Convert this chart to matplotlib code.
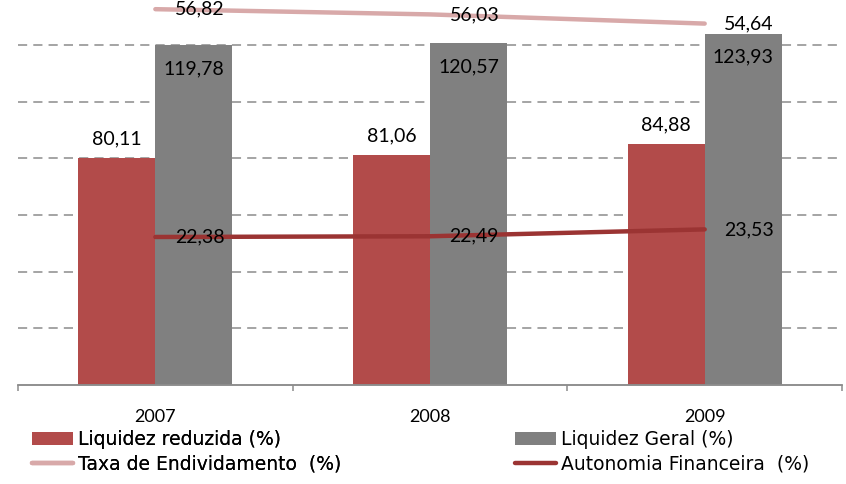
import numpy as np
import matplotlib
matplotlib.use('Agg')
import matplotlib.pyplot as plt
from matplotlib.ticker import FixedLocator

plt.rcParams['font.family'] = ['Lato', 'DejaVu Sans']

years = ['2007', '2008', '2009']
liquidez_reduzida = [80.11, 81.06, 84.88]
liquidez_geral = [119.78, 120.57, 123.93]
taxa_endividamento = [56.82, 56.03, 54.64]
autonomia_financeira = [22.38, 22.49, 23.53]


def fmt(v):
    return f'{v:.2f}'.replace('.', ',')


fig = plt.figure(figsize=(8.46, 4.84), dpi=100)
ax = fig.add_axes([0.0213, 0.2045, 0.974, 0.82])
ax2 = ax.twinx()

x = np.arange(len(years))
w = 0.28
red = '#B24B4A'
grey = '#808080'

b1 = ax.bar(x - w / 2, liquidez_reduzida, w, color=red, zorder=2,
            label='Liquidez reduzida (%)')
b2 = ax.bar(x + w / 2, liquidez_geral, w, color=grey, zorder=2,
            label='Liquidez Geral (%)')

lab_size = 14
for xi, v in zip(x - w / 2, liquidez_reduzida):
    ax.annotate(fmt(v), (xi, v), xytext=(0, 14), textcoords='offset points',
                ha='center', va='center', fontsize=lab_size)
for xi, v in zip(x + w / 2, liquidez_geral):
    ax.annotate(fmt(v), (xi, v), xytext=(0, -17), textcoords='offset points',
                ha='center', va='center', fontsize=lab_size)

l1, = ax2.plot(x, taxa_endividamento, color='#D8A9A9', lw=3.2,
               solid_capstyle='round', label='Taxa de Endividamento  (%)')
l2, = ax2.plot(x, autonomia_financeira, color='#9B3433', lw=3.2,
               solid_capstyle='round', label='Autonomia Financeira  (%)')
for vals in (taxa_endividamento, autonomia_financeira):
    for xi, v in zip(x, vals):
        ax2.annotate(fmt(v), (xi, v), xytext=(14, 0), textcoords='offset points',
                     ha='left', va='center', fontsize=lab_size)

ax.set_xlim(-0.5, 2.5)
ax.set_ylim(0, 140)
ax2.set_ylim(0, 60)

ax.set_yticks(np.arange(20, 140, 20))
ax.yaxis.grid(True, linestyle=(0, (6, 4)), color='#8C8C8C', lw=1.1, zorder=0)
ax.set_axisbelow(True)
ax.tick_params(axis='y', left=False, labelleft=False)
ax2.tick_params(axis='y', right=False, labelright=False)

ax.set_xticks(x)
ax.set_xticklabels(years, fontsize=13)
ax.xaxis.set_minor_locator(FixedLocator([-0.5, 0.5, 1.5, 2.5]))
ax.tick_params(axis='x', which='major', length=0, pad=17)
ax.tick_params(axis='x', which='minor', length=4, color='#8C8C8C', width=1.1)

for a in (ax, ax2):
    for s in ('top', 'left', 'right'):
        a.spines[s].set_visible(False)
    a.spines['bottom'].set_color('#8C8C8C')
    a.spines['bottom'].set_linewidth(1.1)

leg_kw = dict(loc='upper left', frameon=False, handlelength=2.2,
              handletextpad=0.25, labelspacing=0.3, borderaxespad=0,
              borderpad=0, prop={'family': 'DejaVu Sans', 'size': 13.5})
leg1 = fig.legend(handles=[b1, l1], bbox_to_anchor=(32 / 846, 1 - 430 / 484),
                  **leg_kw)
fig.add_artist(leg1)
fig.legend(handles=[b2, l2], bbox_to_anchor=(515 / 846, 1 - 430 / 484),
           **leg_kw)

fig.savefig('out.png', dpi=100)
